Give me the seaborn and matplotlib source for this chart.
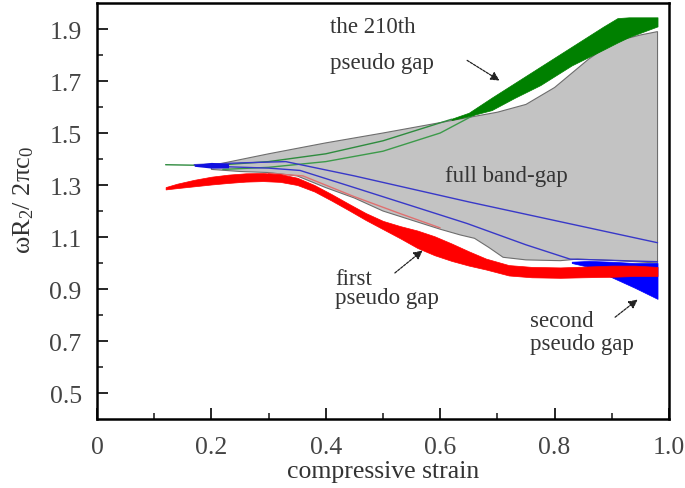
import numpy as np
import pandas as pd
import matplotlib
matplotlib.use("Agg")
import matplotlib.pyplot as plt
import seaborn as sns
from matplotlib.ticker import FixedLocator

# ---------------- data ----------------
# full band-gap region (gray)
gray_x_up = [0.20, 0.30, 0.40, 0.50, 0.60, 0.65, 0.70, 0.75, 0.80, 0.83, 0.86, 0.89, 0.92, 0.95, 0.98]
gray_y_up = [1.375, 1.42, 1.462, 1.50, 1.54, 1.56, 1.58, 1.61, 1.675, 1.73, 1.785, 1.83, 1.86, 1.877, 1.89]
gray_x_lo = [0.20, 0.25, 0.30, 0.35, 0.40, 0.45, 0.50, 0.55, 0.60, 0.635, 0.66, 0.685, 0.71, 0.75, 0.81, 0.84, 0.90, 0.98]
gray_y_lo = [1.36, 1.352, 1.348, 1.335, 1.29, 1.25, 1.20, 1.165, 1.13, 1.108, 1.095, 1.06, 1.022, 1.012, 1.009, 1.015, 1.01, 1.0]

# first pseudo gap (red)
red_x   = [0.12, 0.14, 0.17, 0.20, 0.23, 0.26, 0.29, 0.32, 0.35, 0.38, 0.41, 0.44, 0.47, 0.50, 0.53, 0.56, 0.59, 0.62, 0.65, 0.68, 0.72, 0.76, 0.81, 0.85, 0.90, 0.94, 0.98]
red_top = [1.292, 1.305, 1.32, 1.332, 1.34, 1.345, 1.346, 1.342, 1.328, 1.30, 1.265, 1.228, 1.192, 1.162, 1.142, 1.125, 1.103, 1.075, 1.045, 1.017, 0.992, 0.985, 0.983, 0.986, 0.99, 0.99, 0.985]
red_bot = [1.283, 1.288, 1.295, 1.302, 1.308, 1.313, 1.315, 1.312, 1.30, 1.275, 1.24, 1.203, 1.165, 1.13, 1.095, 1.058, 1.03, 1.008, 0.99, 0.975, 0.952, 0.945, 0.943, 0.945, 0.947, 0.95, 0.95]

# second pseudo gap (blue)
blue_x   = [0.83, 0.86, 0.90, 0.94, 0.98]
blue_top = [1.005, 1.008, 1.005, 1.0, 1.0]
blue_bot = [1.0, 0.985, 0.945, 0.905, 0.862]
blue_l_x   = [0.17, 0.20, 0.23]
blue_l_top = [1.378, 1.387, 1.382]
blue_l_bot = [1.372, 1.365, 1.366]

# 210th pseudo gap (green)
green_x   = [0.62, 0.65, 0.69, 0.73, 0.775, 0.83, 0.885, 0.91, 0.93, 0.98]
green_top = [1.555, 1.578, 1.636, 1.692, 1.755, 1.832, 1.909, 1.942, 1.945, 1.945]
green_bot = [1.55, 1.565, 1.588, 1.635, 1.684, 1.76, 1.82, 1.848, 1.869, 1.91]

# thin band-edge lines
g1_x = [0.12, 0.20, 0.30, 0.40, 0.50, 0.62]
g1_y = [1.378, 1.375, 1.39, 1.42, 1.47, 1.553]
g2_x = [0.22, 0.30, 0.40, 0.50, 0.60, 0.66]
g2_y = [1.36, 1.368, 1.39, 1.43, 1.50, 1.57]
b1_x = [0.17, 0.25, 0.33, 0.45, 0.65, 0.98]
b1_y = [1.378, 1.385, 1.39, 1.335, 1.235, 1.078]
b2_x = [0.23, 0.30, 0.355, 0.45, 0.55, 0.647, 0.75, 0.827, 0.98]
b2_y = [1.37, 1.365, 1.356, 1.29, 1.22, 1.152, 1.07, 1.015, 1.005]
p_x = [0.30, 0.36, 0.45, 0.53, 0.60]
p_y = [1.345, 1.335, 1.255, 1.19, 1.135]

x_ticks = [0, 0.2, 0.4, 0.6, 0.8, 1.0]
x_ticklabels = ["0", "0.2", "0.4", "0.6", "0.8", "1.0"]
y_ticks = [0.5, 0.7, 0.9, 1.1, 1.3, 1.5, 1.7, 1.9]
y_ticklabels = ["0.5", "0.7", "0.9", "1.1", "1.3", "1.5", "1.7", "1.9"]

# ---------------- figure ----------------
sns.set_theme(style="white")
plt.rcParams["font.family"] = ["Liberation Serif", "DejaVu Serif"]
plt.rcParams["mathtext.fontset"] = "custom"
plt.rcParams["mathtext.rm"] = "Liberation Serif"
plt.rcParams["mathtext.it"] = "Liberation Serif"

fig = plt.figure(figsize=(6.85, 4.89), dpi=100)
ax = fig.add_axes([0.1416, 0.1411, 0.835, 0.8507])

gray_poly_x = np.concatenate([gray_x_up, [gray_x_lo[-1]], gray_x_lo[::-1]])
gray_poly_y = np.concatenate([gray_y_up, [gray_y_lo[-1]], gray_y_lo[::-1]])
ax.fill(gray_poly_x, gray_poly_y, facecolor="#c3c3c3", edgecolor="#6e6e6e", lw=0.8, zorder=1)

lines = pd.concat([
    pd.DataFrame({"x": g1_x, "y": g1_y, "id": "g1"}),
    pd.DataFrame({"x": g2_x, "y": g2_y, "id": "g2"}),
    pd.DataFrame({"x": b1_x, "y": b1_y, "id": "b1"}),
    pd.DataFrame({"x": b2_x, "y": b2_y, "id": "b2"}),
    pd.DataFrame({"x": p_x, "y": p_y, "id": "p"}),
])
sns.lineplot(data=lines, x="x", y="y", hue="id", sort=False, estimator=None,
             palette={"g1": "#2e8b3e", "g2": "#3c9a4a", "b1": "#3838c8", "b2": "#3838c8", "p": "#e07070"},
             linewidth=1.0, legend=False, ax=ax, zorder=2)

ax.fill_between(blue_l_x, blue_l_bot, blue_l_top, color="#1010e0", lw=0, zorder=3)
ax.fill_between(green_x, green_bot, green_top, color="#008000", lw=0.5, edgecolor="#008000", zorder=3)
ax.fill_between(blue_x, blue_bot, blue_top, color="#0000ff", lw=0.5, edgecolor="#0000ff", zorder=3)
ax.fill_between(red_x, red_bot, red_top, color="#ff0000", lw=0.5, edgecolor="#ff0000", zorder=4)

txt_color = "#353535"
fs = 16.5
ax.text(0.407, 1.908, "the 210th", fontsize=fs, color=txt_color, va="center", ha="left")
ax.text(0.407, 1.773, "pseudo gap", fontsize=fs, color=txt_color, va="center", ha="left")
ax.text(0.715, 1.337, "full band-gap", fontsize=fs, color=txt_color, va="center", ha="center", zorder=5)
ax.text(0.416, 0.94, "first", fontsize=fs, color=txt_color, va="center", ha="left")
ax.text(0.416, 0.867, "pseudo gap", fontsize=fs, color=txt_color, va="center", ha="left")
ax.text(0.757, 0.778, "second", fontsize=fs, color=txt_color, va="center", ha="left")
ax.text(0.757, 0.689, "pseudo gap", fontsize=fs, color=txt_color, va="center", ha="left")

arrow = dict(arrowstyle="-|>", color="#222222", lw=0.9, linestyle=(0, (2, 1)), mutation_scale=13)
ax.annotate("", xy=(0.708, 1.696), xytext=(0.643, 1.785), arrowprops=arrow, zorder=6)
ax.annotate("", xy=(0.573, 1.055), xytext=(0.517, 0.955), arrowprops=arrow, zorder=6)
ax.annotate("", xy=(0.949, 0.866), xytext=(0.902, 0.785), arrowprops=arrow, zorder=6)

ax.set_xlim(0, 1.0)
ax.set_ylim(0.4, 2.0)
ax.xaxis.set_major_locator(FixedLocator(x_ticks))
ax.set_xticklabels(x_ticklabels)
ax.xaxis.set_minor_locator(FixedLocator([0.1, 0.3, 0.5, 0.7, 0.9]))
ax.yaxis.set_major_locator(FixedLocator(y_ticks))
ax.set_yticklabels(y_ticklabels)
ax.yaxis.set_minor_locator(FixedLocator([0.6, 0.8, 1.0, 1.2, 1.4, 1.6, 1.8]))

ax.tick_params(axis="both", which="major", direction="in", length=8, width=1.4,
               labelsize=18.5, labelcolor="#444444", left=True, bottom=True, top=False, right=False)
ax.tick_params(axis="y", which="major", pad=11)
ax.tick_params(axis="x", which="major", pad=12)
ax.tick_params(axis="both", which="minor", direction="in", length=4.5, width=1.2,
               left=True, bottom=True, top=False, right=False)

for s in ax.spines.values():
    s.set_visible(True)
    s.set_color("black")
    s.set_linewidth(1.8)

ax.set_xlabel("compressive strain", fontsize=18.5, color="#333333")
ax.xaxis.set_label_coords(0.5, -0.098)
ax.set_ylabel("ωR$_2$/ 2πc$_0$", fontsize=19, color="#333333")
ax.yaxis.set_label_coords(-0.107, 0.53)

fig.savefig("out.png", dpi=100)
